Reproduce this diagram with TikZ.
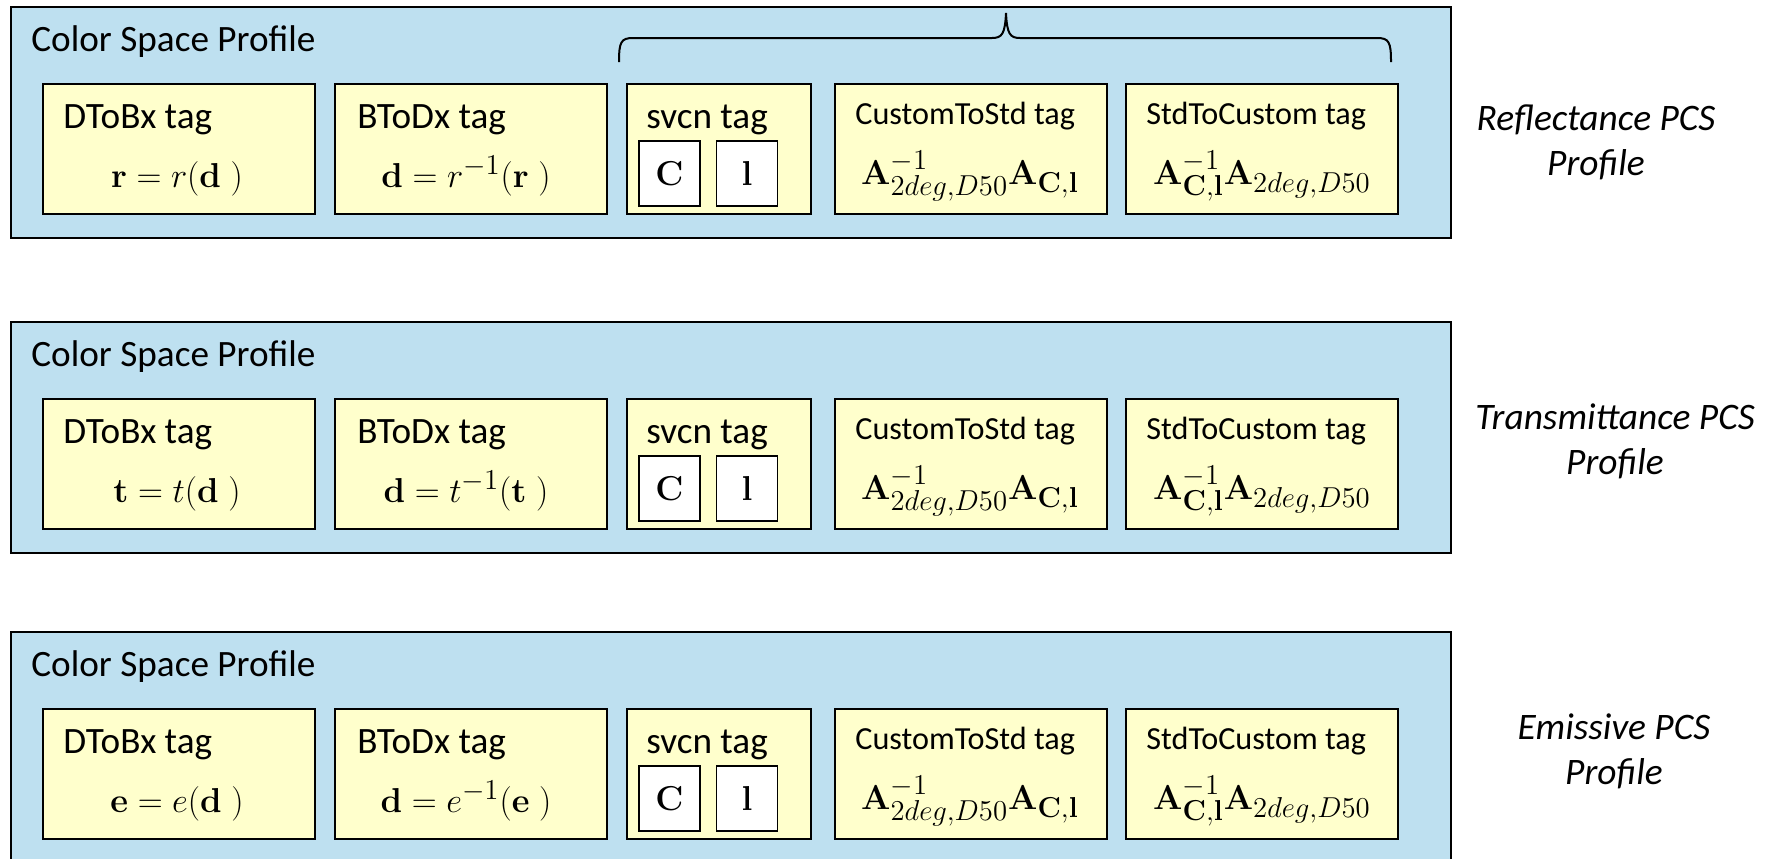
\documentclass[tikz,border=0pt]{standalone}
\usepackage[no-math]{fontspec}
\setmainfont{Carlito}
\usetikzlibrary{fit}
\DeclareMathSizes{18}{18}{13.5}{10}
\definecolor{pblue}{RGB}{190,224,240}
\definecolor{pyellow}{RGB}{255,255,204}
\tikzset{
  profilebox/.style={draw=black, line width=1pt, fill=pblue, inner sep=0pt},
  tagbox/.style={draw=black, line width=1pt, fill=pyellow, inner sep=0pt},
  letterbox/.style={draw=black, line width=0.8pt, fill=white, inner sep=0pt,
    minimum width=30.5pt, minimum height=32.5pt, font=\fontsize{18}{21}\selectfont},
  titletext/.style={font=\fontsize{18.6}{22}\selectfont, anchor=base west, inner sep=0pt},
  smalltitle/.style={font=\fontsize{16.1}{19}\selectfont, anchor=base west, inner sep=0pt},
  mathtext/.style={font=\fontsize{18}{21}\selectfont, anchor=base, inner sep=0pt},
  sidelabel/.style={font=\fontsize{18.7}{22.5}\selectfont\itshape, align=center, inner sep=0pt},
  bracestyle/.style={draw=black, line width=1pt},
}
\newcommand{\profilerow}[6]{%
  \begin{scope}[shift={(0,#2)}]
    \node[profilebox, fit={(11,7) (1451,238)}] (#1profile) {};
    \node[titletext] (#1csp) at (31,51) {Color Space Profile};
    \node[tagbox, fit={(43,84) (315,214)}] (#1dtob) {};
    \node[tagbox, fit={(335,84) (607,214)}] (#1btod) {};
    \node[tagbox, fit={(627,84) (811,214)}] (#1svcn) {};
    \node[tagbox, fit={(835,84) (1107,214)}] (#1cts) {};
    \node[tagbox, fit={(1126,84) (1398,214)}] (#1stc) {};
    \node[titletext] (#1dtobt) at (63,128) {DToBx tag};
    \node[titletext] (#1btodt) at (357,128) {BToDx tag};
    \node[titletext] (#1svcnt) at (646,128) {svcn tag};
    \node[smalltitle] (#1ctst) at (855,124) {CustomToStd tag};
    \node[smalltitle] (#1stct) at (1146,124) {StdToCustom tag};
    \node[mathtext] (#1dtobm) at (177,187) {$\mathbf{#3}=#3(\mathbf{d}\;)$};
    \node[mathtext] (#1btodm) at (466,187) {$\mathbf{d}=#3^{-1}(\mathbf{#3}\;)$};
    \node[letterbox] (#1C) at (669.5,173.5) {$\mathbf{C}$};
    \node[letterbox] (#1l) at (747,173.5) {$\mathbf{l}$};
    \node[mathtext] (#1ctsm) at (970,184) {$\mathbf{A}^{-1}_{2deg,D50}\mathbf{A}_{\mathbf{C},\mathbf{l}}$};
    \node[mathtext] (#1stcm) at (1262,184) {$\mathbf{A}^{-1}_{\mathbf{C},\mathbf{l}}\mathbf{A}_{2deg,D50}$};
    \node[sidelabel] (#1label) at (#5,#6) {#4\\Profile};
  \end{scope}}

\begin{document}
\begin{tikzpicture}[x=0.5pt,y=-0.5pt]
\useasboundingbox (0,0) rectangle (1765,858);
\profilerow{r}{0}{r}{Reflectance PCS}{1596}{142}
\profilerow{t}{315}{t}{Transmittance PCS}{1615}{126}
\profilerow{e}{625}{e}{Emissive PCS}{1614}{126}
% brace over svcn, CustomToStd and StdToCustom (row 1)
\draw[bracestyle] (619,62) .. controls (619,42) and (621,38) .. (633,38)
  -- (992,38) .. controls (1002,38) and (1005,34) .. (1006,13)
  .. controls (1007,34) and (1010,38) .. (1020,38)
  -- (1377,38) .. controls (1389,38) and (1391,42) .. (1391,62);
\end{tikzpicture}
\end{document}
